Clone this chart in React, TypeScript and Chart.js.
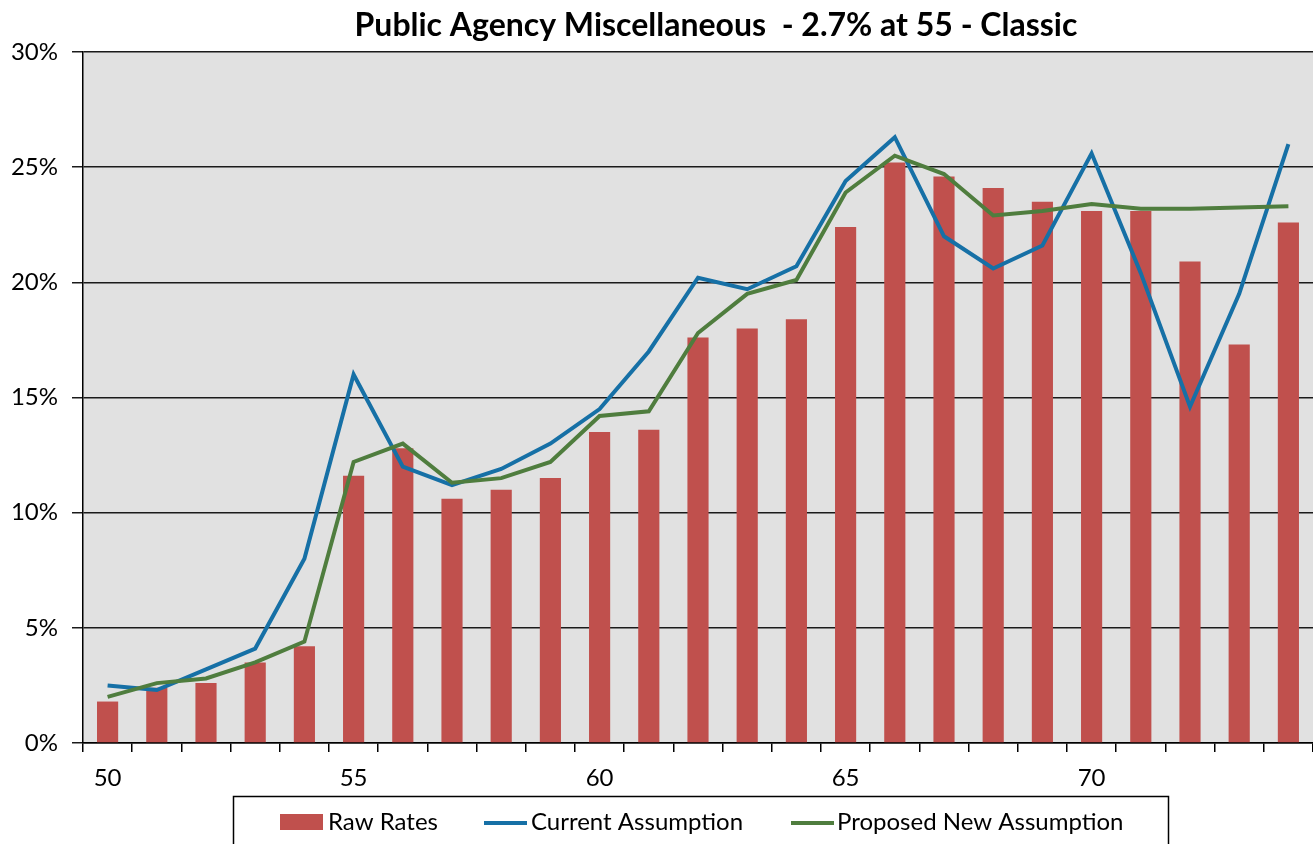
import React, { useEffect, useRef } from "react";
import { Chart, registerables } from "chart.js";

Chart.register(...registerables);

const ages = [50, 51, 52, 53, 54, 55, 56, 57, 58, 59, 60, 61, 62, 63, 64, 65, 66, 67, 68, 69, 70, 71, 72, 73, 74];
const rawRates = [1.8, 2.4, 2.6, 3.5, 4.2, 11.6, 12.8, 10.6, 11.0, 11.5, 13.5, 13.6, 17.6, 18.0, 18.4, 22.4, 25.2, 24.6, 24.1, 23.5, 23.1, 23.1, 20.9, 17.3, 22.6];
const currentAssumption = [2.5, 2.3, 3.2, 4.1, 8.0, 16.0, 12.0, 11.2, 11.9, 13.0, 14.5, 17.0, 20.2, 19.7, 20.7, 24.4, 26.3, 22.0, 20.6, 21.6, 25.6, 20.4, 14.6, 19.5, 26.0];
const proposedAssumption = [2.0, 2.6, 2.8, 3.5, 4.4, 12.2, 13.0, 11.3, 11.5, 12.2, 14.2, 14.4, 17.8, 19.5, 20.1, 23.9, 25.5, 24.7, 22.9, 23.1, 23.4, 23.2, 23.2, 23.25, 23.3];
const yTicks = [0, 5, 10, 15, 20, 25, 30];

const TITLE = "Public Agency Miscellaneous  - 2.7% at 55 - Classic";
const LEGEND_NAMES = ["Raw Rates", "Current Assumption", "Proposed New Assumption"];

const BAR_COLOR = "#c0504d";
const BLUE = "#1670a6";
const GREEN = "#4f7d3e";
const FONT = "Lato, 'Open Sans', sans-serif";

export default function App() {
  const ref = useRef<HTMLCanvasElement | null>(null);

  useEffect(() => {
    document.body.style.margin = "0";
    const canvas = ref.current;
    if (!canvas) return;

    const bgPlugin = {
      id: "plotBg",
      beforeDraw(chart: any) {
        const { ctx, chartArea } = chart;
        ctx.save();
        ctx.fillStyle = "#e1e1e1";
        ctx.fillRect(chartArea.left, chartArea.top, chartArea.right - chartArea.left, chartArea.bottom - chartArea.top);
        ctx.restore();
      },
      afterDraw(chart: any) {
        const { ctx } = chart;
        ctx.save();
        // title
        ctx.fillStyle = "#000";
        ctx.font = `bold 32px ${FONT}`;
        ctx.textAlign = "center";
        ctx.textBaseline = "middle";
        ctx.fillText(TITLE, 716, 26);
        // legend box
        ctx.strokeStyle = "#000";
        ctx.lineWidth = 1.5;
        ctx.strokeRect(233.5, 796.5, 935, 80);
        ctx.font = `24px ${FONT}`;
        ctx.textAlign = "left";
        // raw rates
        ctx.fillStyle = BAR_COLOR;
        ctx.fillRect(280, 814, 43, 16);
        ctx.fillStyle = "#000";
        ctx.fillText(LEGEND_NAMES[0], 328, 822);
        // current
        ctx.strokeStyle = BLUE;
        ctx.lineWidth = 4;
        ctx.beginPath();
        ctx.moveTo(484, 823);
        ctx.lineTo(527, 823);
        ctx.stroke();
        ctx.fillText(LEGEND_NAMES[1], 531, 822);
        // proposed
        ctx.strokeStyle = GREEN;
        ctx.beginPath();
        ctx.moveTo(791, 823);
        ctx.lineTo(834, 823);
        ctx.stroke();
        ctx.fillText(LEGEND_NAMES[2], 837, 822);
        ctx.restore();
      },
    };

    const chart = new Chart(canvas, {
      type: "bar",
      data: {
        labels: ages.map(String),
        datasets: [
          {
            type: "line",
            label: LEGEND_NAMES[1],
            data: currentAssumption,
            borderColor: BLUE,
            backgroundColor: BLUE,
            borderWidth: 4,
            pointRadius: 0,
            tension: 0,
            order: 1,
          } as any,
          {
            type: "line",
            label: LEGEND_NAMES[2],
            data: proposedAssumption,
            borderColor: GREEN,
            backgroundColor: GREEN,
            borderWidth: 4,
            pointRadius: 0,
            tension: 0,
            order: 0,
          } as any,
          {
            type: "bar",
            label: LEGEND_NAMES[0],
            data: rawRates,
            backgroundColor: BAR_COLOR,
            barPercentage: 0.86,
            categoryPercentage: 0.5,
            order: 2,
          },
        ],
      },
      options: {
        animation: false,
        responsive: false,
        maintainAspectRatio: false,
        layout: { padding: { top: 52, left: 0, right: 0, bottom: 0 } },
        plugins: {
          legend: { display: false },
          title: { display: false },
          tooltip: { enabled: false },
        },
        scales: {
          x: {
            offset: true,
            grid: {
              offset: true,
              drawOnChartArea: false,
              drawTicks: true,
              tickLength: 9,
              color: "#000",
              lineWidth: 1.5,
            },
            border: { display: true, color: "#000", width: 1.5 },
            ticks: {
              autoSkip: false,
              maxRotation: 0,
              minRotation: 0,
              padding: 12,
              color: "#000",
              font: { family: FONT, size: 24 },
              callback: (_v: any, i: number) => (ages[i] % 5 === 0 ? String(ages[i]) : ""),
            },
            afterFit: (scale: any) => {
              scale.height = 101;
            },
          },
          y: {
            min: 0,
            max: 30,
            afterBuildTicks: (scale: any) => {
              scale.ticks = yTicks.map((v) => ({ value: v }));
            },
            grid: {
              color: "#1a1a1a",
              lineWidth: 1.5,
              drawTicks: true,
              tickLength: 11,
            },
            border: { display: true, color: "#000", width: 1.5 },
            ticks: {
              padding: 14,
              color: "#000",
              font: { family: FONT, size: 24 },
              callback: (v: any) => `${v}%`,
            },
            afterFit: (scale: any) => {
              scale.width = 83;
            },
          },
        },
      },
      plugins: [bgPlugin],
    });

    return () => chart.destroy();
  }, []);

  return (
    <div style={{ position: "absolute", left: 0, top: 0, width: 1313, height: 844, background: "#fff" }}>
      <canvas ref={ref} width={1313} height={844} style={{ width: 1313, height: 844, display: "block" }} />
    </div>
  );
}
